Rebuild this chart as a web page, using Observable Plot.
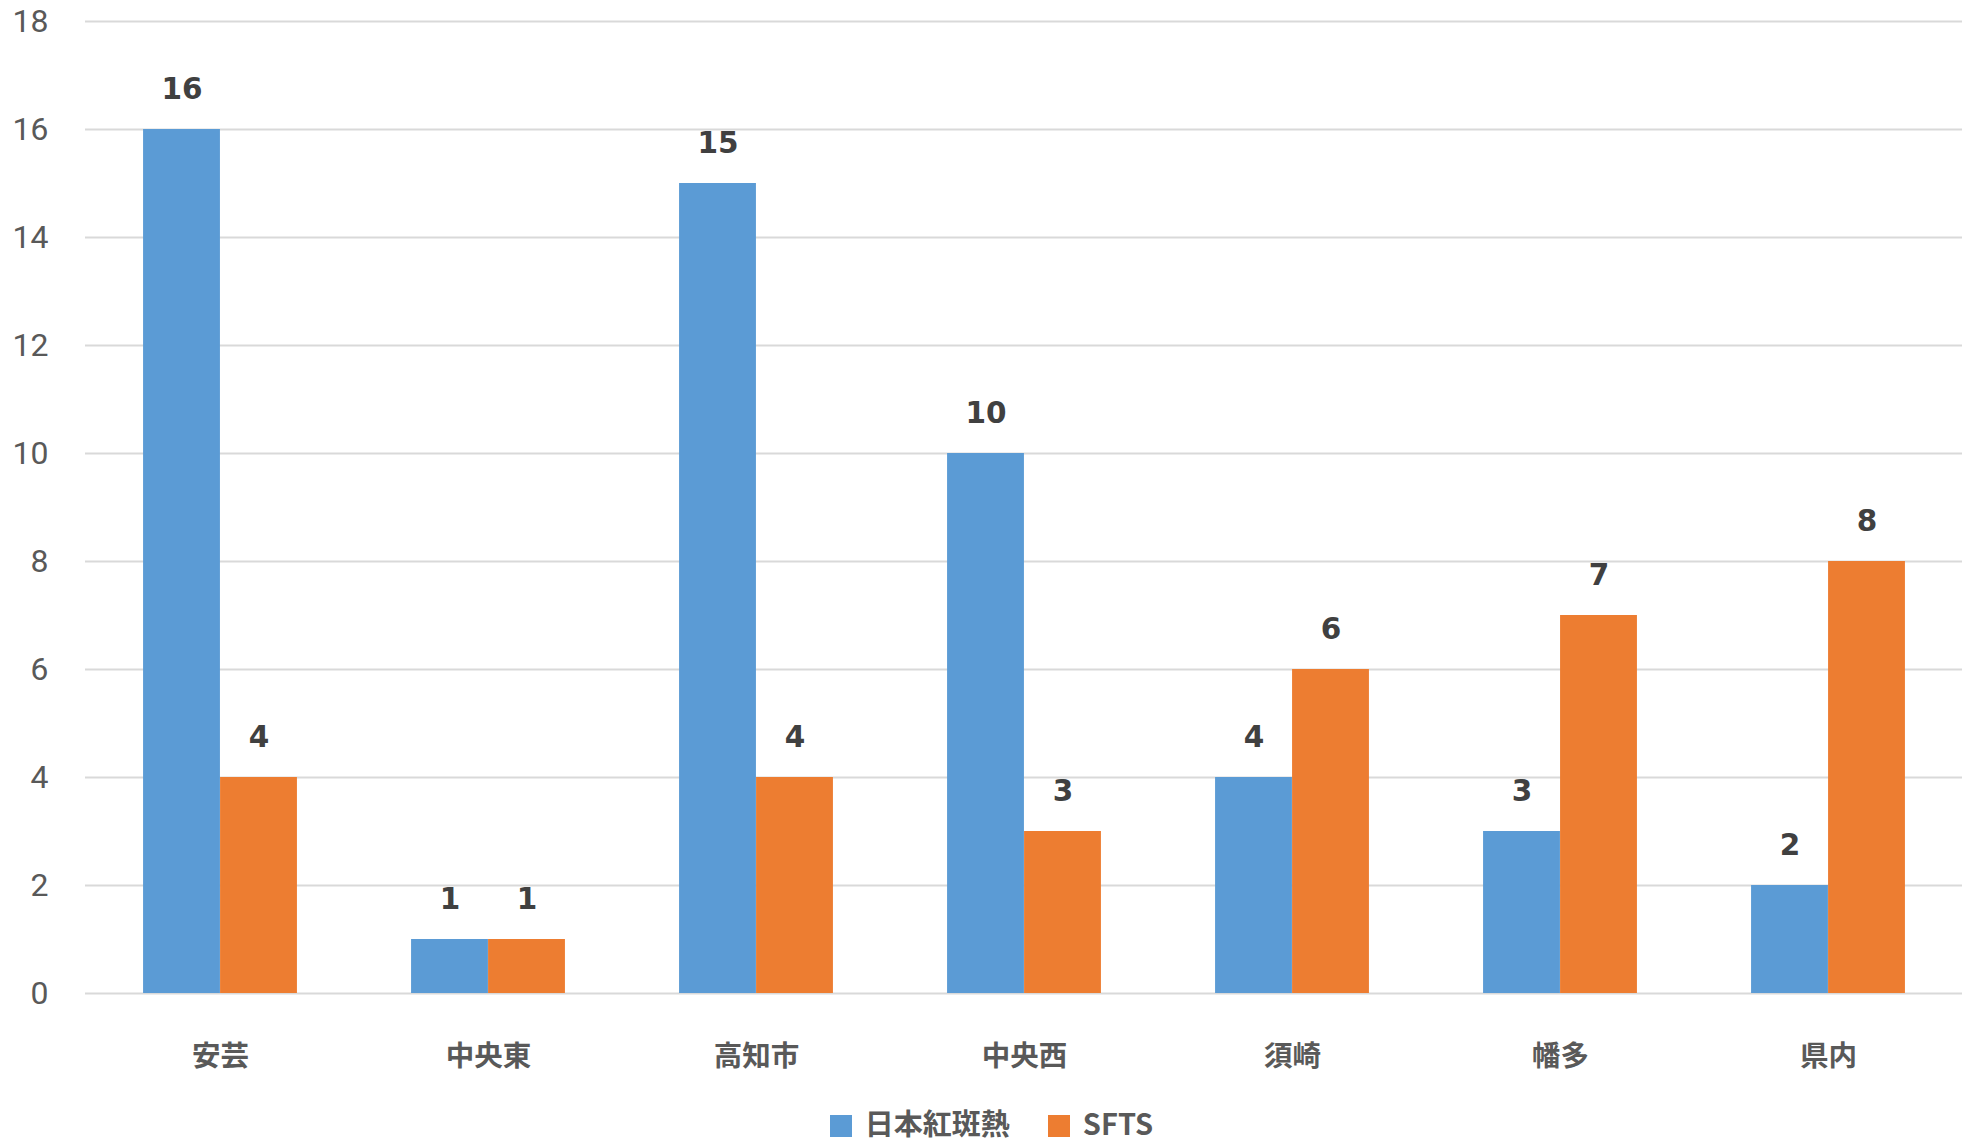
<!DOCTYPE html>
<html>
<head>
<meta charset="utf-8">
<script src="https://cdn.jsdelivr.net/npm/d3@7"></script>
<script src="https://cdn.jsdelivr.net/npm/@observablehq/plot@0.6"></script>
<style>
  html, body { margin: 0; padding: 0; background: #fff; overflow: hidden; }
  #chart { position: relative; }
  #legend { position: absolute; top: 1101px; left: 0; width: 1983px; display: flex; justify-content: center; gap: 38px;
            font-family: "Noto Sans CJK JP", sans-serif; font-weight: bold; font-size: 29px; color: #595959; }
  .item { display: flex; align-items: center; line-height: 42px; height: 42px; }
  .sw { width: 22px; height: 22px; display: inline-block; margin-right: 13px; transform: translateY(4px); }
</style>
</head>
<body>
<div id="chart"></div>
<div id="legend"></div>
<script>
const categories = ["安芸", "中央東", "高知市", "中央西", "須崎", "幡多", "県内"];
const rickettsiaValues = [16, 1, 15, 10, 4, 3, 2];
const sftsValues = [4, 1, 4, 3, 6, 7, 8];
const seriesNames = ["日本紅斑熱", "SFTS"];
const seriesColors = ["#5B9BD5", "#ED7D31"];
const yTicks = [0, 2, 4, 6, 8, 10, 12, 14, 16, 18];

const W = 1983, H = 1100;
const mL = 85, mR = 21, mT = 21, mB = 107;
const band = (W - mL - mR) / categories.length;
const barW = 77;
const half = band / 2;

const rowsA = categories.map((c, i) => ({category: c, value: rickettsiaValues[i], series: seriesNames[0]}));
const rowsB = categories.map((c, i) => ({category: c, value: sftsValues[i], series: seriesNames[1]}));

const chart = Plot.plot({
  width: W,
  height: H,
  marginLeft: mL,
  marginRight: mR,
  marginTop: mT,
  marginBottom: mB,
  style: {fontFamily: "Roboto, sans-serif", background: "#fff"},
  x: {domain: categories, padding: 0, label: null},
  y: {domain: [0, 18], label: null},
  marks: [
    Plot.ruleY(yTicks, {stroke: "#D9D9D9", strokeWidth: 1.8}),
    Plot.barY(rowsA, {x: "category", y: "value", fill: seriesColors[0], insetLeft: half - barW, insetRight: half}),
    Plot.barY(rowsB, {x: "category", y: "value", fill: seriesColors[1], insetLeft: half, insetRight: half - barW}),
    Plot.text(rowsA, {x: "category", y: "value", text: d => String(d.value), dx: -barW / 2, dy: -31, lineAnchor: "bottom",
      fontFamily: "'DejaVu Sans', sans-serif", fontWeight: "bold", fontSize: 29.5, fill: "#404040"}),
    Plot.text(rowsB, {x: "category", y: "value", text: d => String(d.value), dx: barW / 2, dy: -31, lineAnchor: "bottom",
      fontFamily: "'DejaVu Sans', sans-serif", fontWeight: "bold", fontSize: 29.5, fill: "#404040"}),
    Plot.axisY({ticks: yTicks, tickSize: 0, tickPadding: 37, fontSize: 32, fill: "#595959", label: null,
      fontFamily: "Roboto, sans-serif"}),
    Plot.axisX({tickSize: 0, tickPadding: 52, fontSize: 28.5, fontWeight: "bold", fill: "#595959", label: null,
      fontFamily: "'Noto Sans CJK JP', sans-serif"})
  ]
});
document.getElementById("chart").appendChild(chart);

const legend = document.getElementById("legend");
seriesNames.forEach((name, i) => {
  const item = document.createElement("span");
  item.className = "item";
  const sw = document.createElement("span");
  sw.className = "sw";
  sw.style.background = seriesColors[i];
  const label = document.createElement("span");
  label.textContent = name;
  item.appendChild(sw);
  item.appendChild(label);
  legend.appendChild(item);
});
</script>
</body>
</html>
